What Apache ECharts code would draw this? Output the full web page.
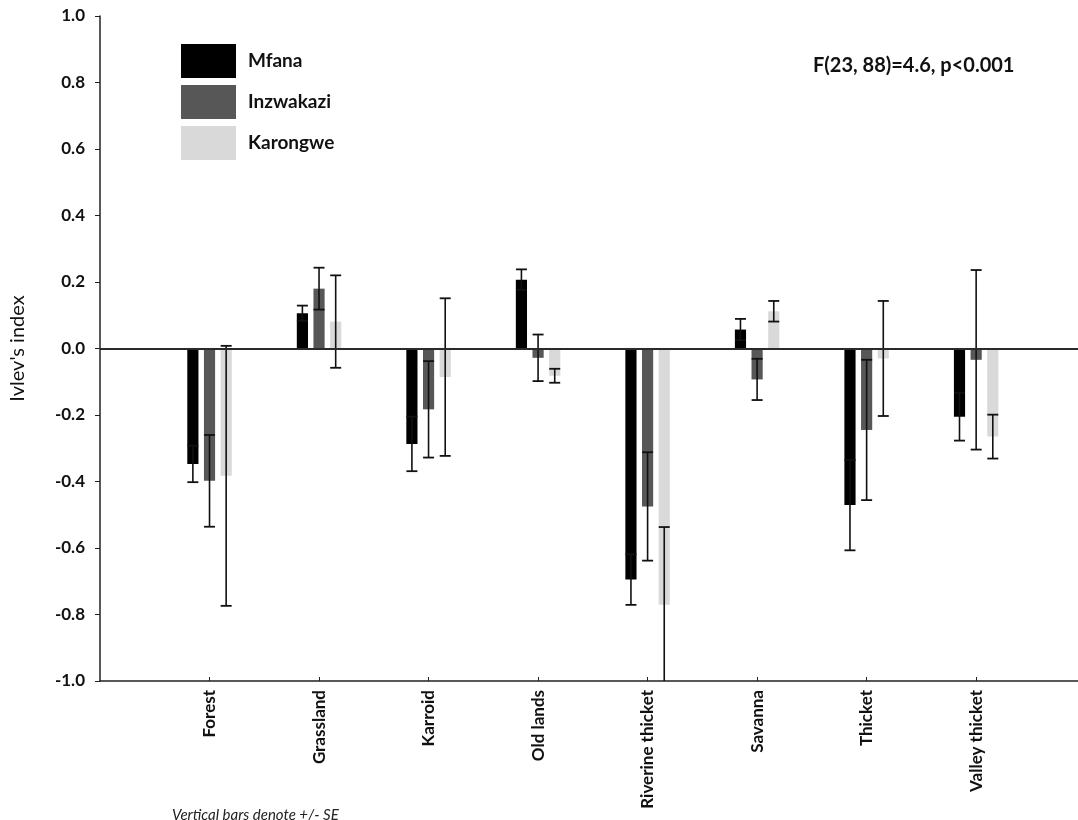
<!DOCTYPE html>
<html>
<head>
<meta charset="utf-8">
<script src="https://cdn.jsdelivr.net/npm/echarts@6/dist/echarts.min.js"></script>
<style>
html,body{margin:0;padding:0;background:#fff;}
#chart{width:1078px;height:820px;}
</style>
</head>
<body>
<div id="chart"></div>
<script>
// ---- data ----
const categories = ['Forest', 'Grassland', 'Karroid', 'Old lands', 'Riverine thicket', 'Savanna', 'Thicket', 'Valley thicket'];
const seriesNames = ['Mfana', 'Inzwakazi', 'Karongwe'];
const mfana       = [-0.347, 0.106, -0.287, 0.207, -0.695, 0.057, -0.471, -0.205];
const mfanaSE     = [0.055, 0.023, 0.082, 0.031, 0.076, 0.032, 0.136, 0.072];
const inzwakazi   = [-0.398, 0.180, -0.183, -0.028, -0.475, -0.093, -0.245, -0.034];
const inzwakaziSE = [0.138, 0.063, 0.145, 0.070, 0.163, 0.062, 0.211, 0.270];
const karongwe    = [-0.383, 0.081, -0.086, -0.082, -0.771, 0.112, -0.030, -0.265];
const karongweSE  = [0.391, 0.139, 0.237, 0.021, 0.234, 0.031, 0.173, 0.066];
const yTicks = [-1.0, -0.8, -0.6, -0.4, -0.2, 0.0, 0.2, 0.4, 0.6, 0.8, 1.0];
const annotation = 'F(23, 88)=4.6, p<0.001';
const footnote = 'Vertical bars denote +/- SE';
const yName = "Ivlev's index";

// ---- styling ----
const colors = ['#000000', '#575757', '#d9d9d9'];
const offsets = [-0.152, 0, 0.152];
const FONT = 'Lato';
const YMIN = -1, YMAX = 1;

function makeRender(si) {
  return function (params, api) {
    const x = api.value(0), v = api.value(1), se = api.value(2);
    const unit = api.size([1, 0])[0];
    const bw = 0.102 * unit;
    const p0 = api.coord([x, 0]);
    const p1 = api.coord([x, v]);
    const cx = p0[0] + offsets[si] * unit;
    const loRaw = v - se, hiRaw = v + se;
    const lo = Math.max(loRaw, YMIN), hi = Math.min(hiRaw, YMAX);
    const pl = api.coord([x, lo]), ph = api.coord([x, hi]);
    const capW = 11;
    const children = [{
      type: 'rect',
      shape: { x: cx - bw / 2, y: Math.min(p0[1], p1[1]), width: bw, height: Math.abs(p1[1] - p0[1]) },
      style: { fill: colors[si] }
    }, {
      type: 'line',
      shape: { x1: cx, y1: ph[1], x2: cx, y2: pl[1] },
      style: { stroke: '#111', lineWidth: 1.6 }
    }];
    if (hiRaw <= YMAX) children.push({ type: 'line', shape: { x1: cx - capW / 2, y1: ph[1], x2: cx + capW / 2, y2: ph[1] }, style: { stroke: '#111', lineWidth: 1.8 } });
    if (loRaw >= YMIN) children.push({ type: 'line', shape: { x1: cx - capW / 2, y1: pl[1], x2: cx + capW / 2, y2: pl[1] }, style: { stroke: '#111', lineWidth: 1.8 } });
    return { type: 'group', children: children };
  };
}

const vals = [mfana, inzwakazi, karongwe];
const ses = [mfanaSE, inzwakaziSE, karongweSE];
const series = seriesNames.map((name, si) => ({
  name: name,
  type: 'custom',
  renderItem: makeRender(si),
  itemStyle: { color: colors[si] },
  encode: { x: 0, y: 1 },
  clip: true,
  data: vals[si].map((v, i) => [i + 1, v, ses[si][i]]),
  z: 2
}));
series.push({
  type: 'line',
  data: [],
  silent: true,
  z: 5,
  markLine: {
    silent: true,
    symbol: 'none',
    label: { show: false },
    lineStyle: { color: '#2a2a2a', width: 2.2, type: 'solid' },
    data: [{ yAxis: 0 }]
  }
});

const chart = echarts.init(document.getElementById('chart'), null, { renderer: 'canvas' });
chart.setOption({
  animation: false,
  backgroundColor: '#ffffff',
  textStyle: { fontFamily: FONT },
  grid: { left: 100, right: 0, top: 16, bottom: 139, containLabel: false },
  legend: {
    data: seriesNames,
    orient: 'vertical',
    left: 181,
    top: 44,
    padding: 0,
    itemWidth: 55,
    itemHeight: 34,
    itemGap: 7,
    icon: 'rect',
    textStyle: { fontFamily: FONT, fontWeight: 'bold', fontSize: 19, color: '#111', padding: [0, 0, 0, 7] },
    selectedMode: false
  },
  xAxis: {
    type: 'value',
    min: 0,
    max: 8.93,
    interval: 1,
    splitLine: { show: false },
    axisLine: { show: true, onZero: false, lineStyle: { color: '#222', width: 1.5 } },
    axisTick: { show: true, inside: true, length: 4, customValues: categories.map((c, i) => i + 1), lineStyle: { color: '#222' } },
    axisLabel: {
      customValues: categories.map((c, i) => i + 1),
      rotate: 90,
      margin: 9,
      fontFamily: FONT,
      fontWeight: 'bold',
      fontSize: 17,
      color: '#111',
      formatter: function (v) { return categories[Math.round(v) - 1] || ''; }
    }
  },
  yAxis: {
    type: 'value',
    min: YMIN,
    max: YMAX,
    interval: 0.2,
    name: yName,
    nameLocation: 'middle',
    nameGap: 72,
    nameTextStyle: { fontFamily: FONT, fontSize: 20, color: '#111' },
    splitLine: { show: false },
    axisLine: { show: true, lineStyle: { color: '#222', width: 1.5 } },
    axisTick: { show: true, length: 5, lineStyle: { color: '#222' } },
    axisLabel: {
      customValues: yTicks,
      margin: 15,
      fontFamily: FONT,
      fontWeight: 'bold',
      fontSize: 17,
      color: '#111',
      formatter: function (v) { return v.toFixed(1); }
    }
  },
  graphic: [
    {
      type: 'text',
      left: 813,
      top: 56,
      style: { text: annotation, fontFamily: FONT, fontWeight: 'bold', fontSize: 20, fill: '#111' }
    },
    {
      type: 'text',
      left: 172,
      top: 808,
      style: { text: footnote, fontFamily: FONT, fontStyle: 'italic', fontSize: 15, fill: '#222' }
    }
  ],
  series: series
});
</script>
</body>
</html>
